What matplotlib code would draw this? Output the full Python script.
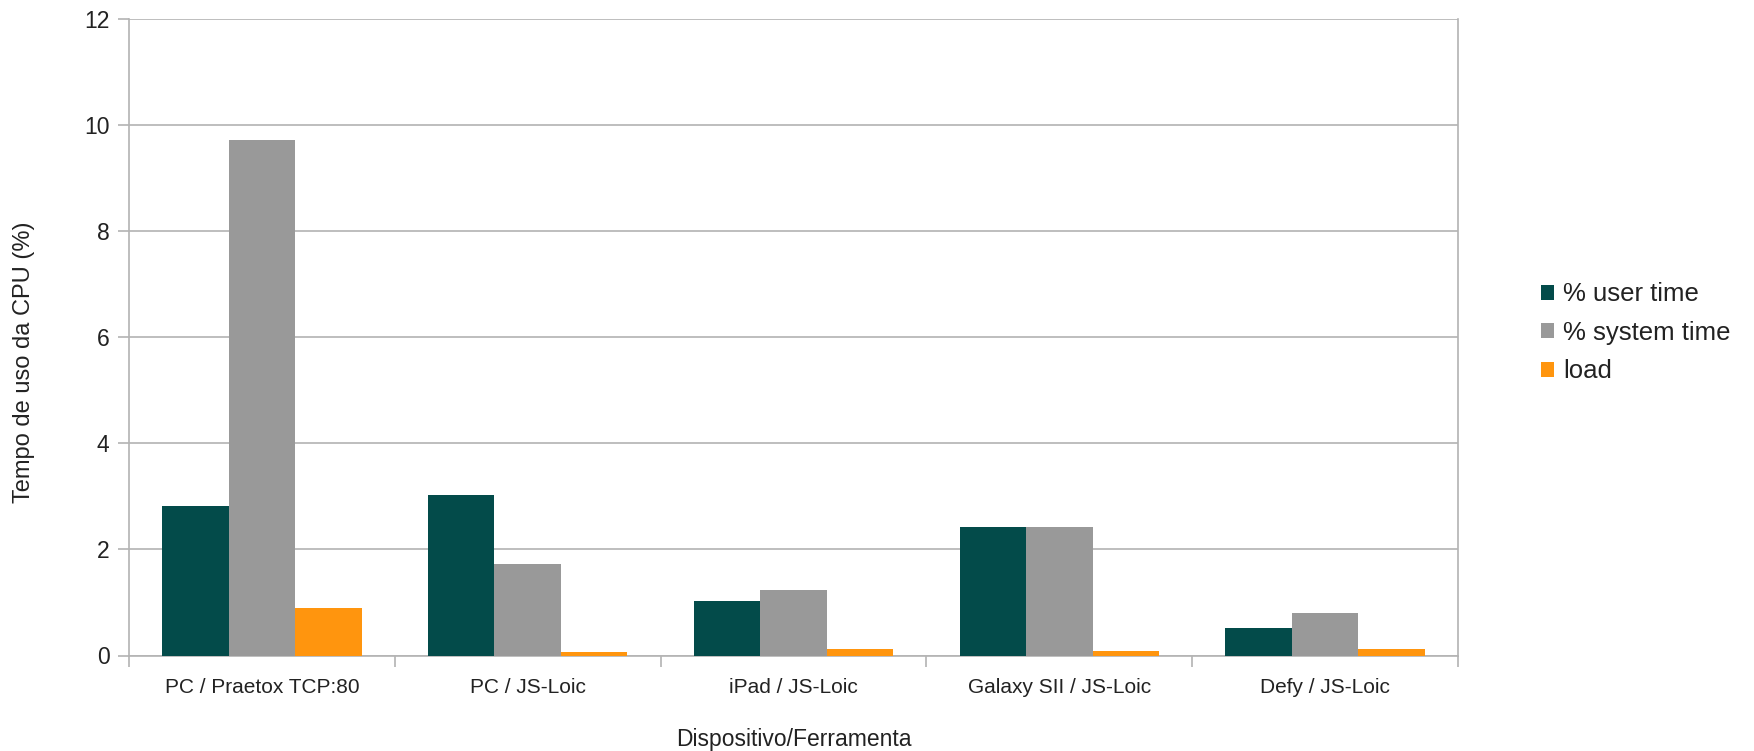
import numpy as np
import matplotlib.pyplot as plt

plt.rcParams['font.family'] = ['Liberation Sans', 'DejaVu Sans']

categories = ['PC / Praetox TCP:80', 'PC / JS-Loic', 'iPad / JS-Loic',
              'Galaxy SII / JS-Loic', 'Defy / JS-Loic']
user_time = [2.82, 3.02, 1.02, 2.42, 0.51]
system_time = [9.72, 1.72, 1.23, 2.42, 0.81]
load = [0.89, 0.06, 0.13, 0.09, 0.13]

series = [('% user time', user_time, '#034b4a'),
          ('% system time', system_time, '#999999'),
          ('load', load, '#ff950e')]

fig = plt.figure(figsize=(17.54, 7.51), dpi=100)
ax = fig.add_axes([129 / 1754, (751 - 655.5) / 751, (1458 - 129) / 1754, 636.5 / 751])

x = np.arange(len(categories))
w = 0.25
for i, (name, vals, col) in enumerate(series):
    ax.bar(x + (i - 1) * w, vals, w, color=col, label=name, zorder=3)

ax.set_xlim(-0.5, len(categories) - 0.5)
ax.set_ylim(0, 12)
ax.set_yticks(np.arange(0, 13, 2))
ax.yaxis.grid(True, color='#b3b3b3', linewidth=1.2, zorder=0)

# category boundaries as major ticks, labels on minor ticks
ax.set_xticks(np.arange(-0.5, len(categories), 1))
ax.set_xticklabels([])
ax.set_xticks(x, minor=True)
ax.set_xticklabels(categories, minor=True, fontsize=15, color='#222222')
ax.tick_params(axis='x', which='major', length=8, color='#b3b3b3', width=1.2)
ax.tick_params(axis='x', which='minor', length=0, pad=16.5)
ax.tick_params(axis='y', length=8, color='#b3b3b3', width=1.2, labelsize=16.5,
               labelcolor='#222222', pad=6)

for s in ax.spines.values():
    s.set_color('#b3b3b3')
    s.set_linewidth(1.2)
ax.spines['top'].set_visible(False)

ax.set_xlabel('Dispositivo/Ferramenta', fontsize=16.5, color='#222222')
ax.xaxis.set_label_coords(0.5, -0.114)
ax.set_ylabel('Tempo de uso da CPU (%)', fontsize=17, color='#222222')
ax.yaxis.set_label_coords(-0.071, 0.46)

ax.legend(loc='center left', bbox_to_anchor=(1.045, 0.507), frameon=False,
          fontsize=18.5, handlelength=0.52, handleheight=0.52, handletextpad=0.35,
          labelspacing=0.56, labelcolor='#222222')

fig.savefig('out.png', dpi=100)
